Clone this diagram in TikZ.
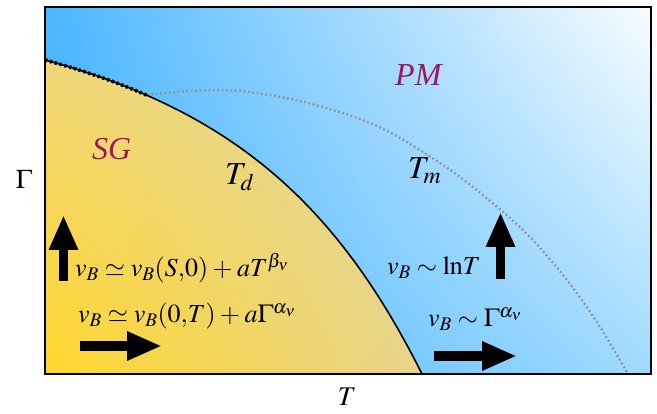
\documentclass[tikz,border=0pt]{standalone}
\usepackage{mathptmx}
\usepackage{fontspec}
\setmainfont{Liberation Serif}
\usetikzlibrary{arrows.meta,shadings}
\definecolor{phase}{RGB}{155,25,92}
\definecolor{bUL}{RGB}{75,182,255}
\definecolor{bUR}{RGB}{248,252,255}
\definecolor{bLL}{RGB}{60,175,255}
\definecolor{bLR}{RGB}{160,218,255}
\definecolor{yUL}{RGB}{240,215,120}
\definecolor{yUR}{RGB}{226,214,160}
\definecolor{yLL}{RGB}{255,215,45}
\definecolor{yLR}{RGB}{232,212,140}
\tikzset{
  lab/.style={inner sep=0pt, font=\fontsize{26}{30}\selectfont},
  axlab/.style={inner sep=0pt, font=\fontsize{27}{30}\selectfont},
  biglab/.style={inner sep=0pt, font=\fontsize{32}{34}\selectfont},
  phaselab/.style={inner sep=0pt, text=phase, font=\fontsize{32}{34}\selectfont\itshape},
  bigarrow/.style={line width=9.5pt, -{Triangle[length=35pt,width=27pt]}},
  tmline/.style={gray!85, line width=2.3pt, dash pattern=on 1.8pt off 2.6pt},
}
\newcommand{\tightmath}{\thickmuskip=4mu plus 2mu\medmuskip=3mu plus 1mu}
\begin{document}
\begin{tikzpicture}[x=1pt,y=-1pt]
\useasboundingbox (0,0) rectangle (657,414);
% blue background
\shade[upper left=bUL, upper right=bUR, lower left=bLL, lower right=bLR] (45,7) rectangle (651,374);
% yellow SG region
\shade[upper left=yUL, upper right=yUR, lower left=yLL, lower right=yLR]
  (45,374) -- (45,60) .. controls (230,110) and (336,202) .. (422,374) -- cycle;
% Tm dotted curve
\draw[tmline]
  plot[smooth] coordinates {(147,95) (190,91) (240,91) (300,101) (360,119) (400,138) (460,177) (523,230) (567,280) (600,327) (628,374)};
% Td curve
\coordinate (tdA) at (45,60);
\coordinate (tdM) at (147,95.3);
\coordinate (tdB) at (422,374);
\draw[line width=1.6pt] (tdA) .. controls (230,110) and (336,202) .. (tdB);
\draw[line width=3.6pt, dash pattern=on 2.4pt off 2.6pt] (tdA) .. controls (82,70) and (115.8,81.7) .. (tdM);
% frame
\draw[line width=2.5pt] (45,7) rectangle (651,374);
% arrows
\coordinate (a1s) at (63.5,281); \coordinate (a1e) at (63.5,215);
\coordinate (a2s) at (80,346);   \coordinate (a2e) at (162,346);
\coordinate (a3s) at (500.5,279);\coordinate (a3e) at (500.5,212);
\coordinate (a4s) at (434,356);  \coordinate (a4e) at (517,356);
\draw[bigarrow] (a1s) -- (a1e);
\draw[bigarrow] (a2s) -- (a2e);
\draw[bigarrow] (a3s) -- (a3e);
\draw[bigarrow] (a4s) -- (a4e);
% labels
\node[phaselab, anchor=base west] (pm) at (395,86) {PM};
\node[phaselab, anchor=base west] (sg) at (92,160) {SG};
\node[biglab, anchor=base west] (td) at (225,185) {$T_d$};
\node[biglab, anchor=base west] (tm) at (408,179) {$T_m$};
\node[axlab] (gam) at (24,179) {$\Gamma$};
\node[axlab] (tax) at (347,397) {$T$};
\node[lab, anchor=base west] (f1) at (75,277) {$\tightmath v_B \simeq v_B(S{,}0) + aT^{\beta_\nu}$};
\node[lab, anchor=base west] (f2) at (78,323) {$\tightmath v_B \simeq v_B(0{,}T) + a\Gamma^{\alpha_\nu}$};
\node[lab, anchor=base west] (f3) at (387,275) {$\tightmath v_B \sim \mathrm{ln}T$};
\node[lab, anchor=base west] (f4) at (428,327) {$\tightmath v_B \sim \Gamma^{\alpha_\nu}$};
\end{tikzpicture}
\end{document}
